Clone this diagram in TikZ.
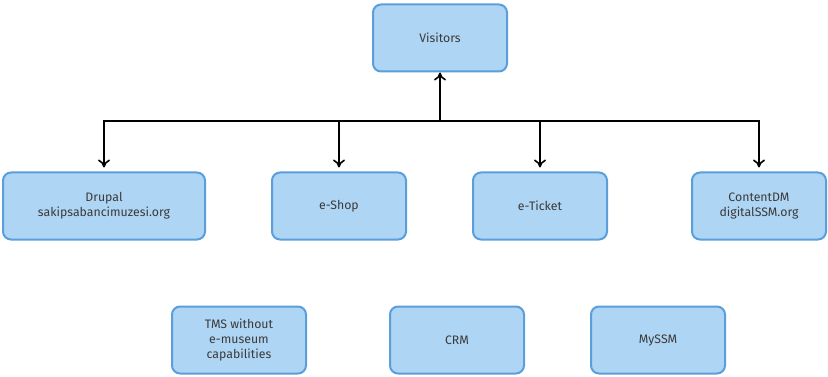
\documentclass[tikz,border=0pt]{standalone}
\usepackage{fontspec}
\setmainfont{Fira Sans}
\usetikzlibrary{arrows.meta}
\definecolor{boxfill}{HTML}{AFD5F4}
\definecolor{boxline}{HTML}{5A9FDC}
\definecolor{boxtext}{HTML}{3A3A3A}

\begin{document}
\begin{tikzpicture}[x=1pt,y=1pt,
  box/.style={draw=boxline, line width=2pt, fill=boxfill, rounded corners=8pt,
    minimum width=134pt, minimum height=67pt, align=center,
    text=boxtext, font=\fontsize{12.3}{15}\selectfont},
  link/.style={line width=1.6pt, ->, >={To[length=8pt,width=12pt]}}]
  \useasboundingbox (0,0) rectangle (828,-377);

  % Top
  \node[box] (visitors) at (440,-38) {Visitors};

  % Middle row
  \node[box, minimum width=202pt] (drupal) at (104,-206) {Drupal\\sakipsabancimuzesi.org};
  \node[box] (eshop) at (339,-206) {e-Shop};
  \node[box] (eticket) at (540,-206) {e-Ticket};
  \node[box] (contentdm) at (759,-206) {ContentDM\\digitalSSM.org};

  % Bottom row
  \node[box] (tms) at (239,-340) {TMS without\\e-museum\\capabilities};
  \node[box] (crm) at (457,-340) {CRM};
  \node[box] (myssm) at (658,-340) {MySSM};

  % Connectors
  \coordinate (bus) at (440,-121);
  \draw[link] (bus) -- (visitors);
  \draw[link, shorten >=4pt] (bus) -| (drupal);
  \draw[link, shorten >=4pt] (bus) -| (eshop);
  \draw[link, shorten >=4pt] (bus) -| (eticket);
  \draw[link, shorten >=4pt] (bus) -| (contentdm);

\end{tikzpicture}
\end{document}
